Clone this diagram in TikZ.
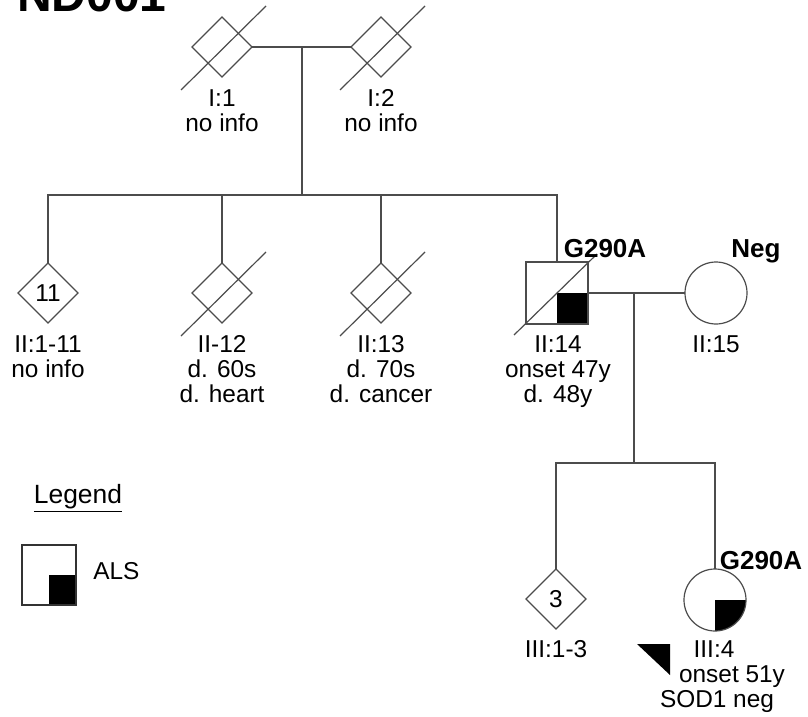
\documentclass[tikz,border=0pt]{standalone}
\usepackage{fontspec}
\setmainfont{Liberation Sans}
\usetikzlibrary{shapes.geometric}

\begin{document}
\begin{tikzpicture}[x=0.5pt, y=-0.5pt, line width=0.6pt,
        every node/.style={font=\fontsize{12.2}{12.5}\selectfont},
        ped/.style={draw=black!70, inner sep=0pt, outer sep=0pt},
        unk/.style={ped, diamond, minimum width=30pt, minimum height=30pt},
        male/.style={ped, rectangle, minimum size=31pt},
        female/.style={ped, circle, minimum size=31pt},
        lab/.style={align=center, anchor=base},
        mut/.style={font=\fontsize{13}{13}\selectfont\bfseries, anchor=base}]
        \useasboundingbox (0,0) rectangle (808,717);

        \node[anchor=base west, font=\fontsize{24}{24}\selectfont\bfseries] (title) at (10,12) {ND001};

        % generation I
        \node[unk] (i1) at (222,47) {};
        \node[unk] (i2) at (381,47) {};
        \coordinate (m1) at (302,47);
        \coordinate (s1) at (302,195);

        % generation II
        \node[unk] (ii1) at (48,293) {11};
        \node[unk] (ii12) at (222,293) {};
        \node[unk] (ii13) at (381,293) {};
        \fill (557,293) rectangle (588,324);
        \node[male] (ii14) at (557,293) {};
        \node[female] (ii15) at (716,293) {};
        \coordinate (m2) at (634,293);
        \coordinate (s2) at (634,463);

        % generation III
        \node[unk] (iii1) at (556,599) {3};
        \fill (715,600) -- ++(31,0) arc[start angle=0, end angle=-90, radius=15.5pt] -- cycle;
        \node[female] (iii4) at (715,600) {};

        % deceased
        \foreach \n in {i1,i2,ii12,ii13}
            \draw[black!70] ([shift={(-41,43)}]\n.center) -- ([shift={(44,-41)}]\n.center);
        \draw[black!70] ([shift={(-43,42)}]ii14.center) -- ([shift={(40,-39)}]ii14.center);

        \draw[black!70] (i1.east) -- (i2.west);
        \draw[black!70] (m1) -- (s1);
        \draw[black!70] (ii1.north) |- (ii14.north |- s1) -- (ii14.north);
        \draw[black!70] (ii12.north) -- (ii12.north |- s1);
        \draw[black!70] (ii13.north) -- (ii13.north |- s1);
        \draw[black!70] (ii14.east) -- (ii15.west);
        \draw[black!70] (m2) -- (s2);
        \draw[black!70] (iii1.north) |- (iii4.north |- s2) -- (iii4.north);

        % labels (base = last line)
        \node[lab] (l1) at (222,132) {I:1\\no info};
        \node[lab] (l2) at (381,132) {I:2\\no info};
        \node[lab] (l3) at (48,377) {II:1-11\\no info};
        \node[lab] (l4) at (222,402) {II-12\\d. 60s\\d. heart};
        \node[lab] (l5) at (381,402) {II:13\\d. 70s\\d. cancer};
        \node[lab] (l6) at (558,402) {II:14\\onset 47y\\d. 48y};
        \node[lab] (l7) at (716,352) {II:15};
        \node[lab] (l8) at (556,657) {III:1-3};
        \node[lab] (l9) at (714,657) {III:4};
        \node[lab] (l10) at (732,682) {onset 51y};
        \node[lab] (l11) at (717,707) {SOD1 neg};

        \node[mut] (g1) at (605,257) {G290A};
        \node[mut] (neg) at (756,257) {Neg};
        \node[mut] (g2) at (761,569) {G290A};

        \fill (637,644) -- (670,644) -- (670,675) -- cycle;

        % legend
        \node[anchor=base, font=\fontsize{13.2}{13.2}\selectfont] (leg) at (78,503) {\underline{Legend}};
        \fill (49,575) rectangle (76,605);
        \node[ped, draw=black!80, minimum width=27pt, minimum height=30pt] (als) at (49,575) {};
        \node[anchor=base west] (alstxt) at (86,579) {ALS};
    \end{tikzpicture}
\end{document}
